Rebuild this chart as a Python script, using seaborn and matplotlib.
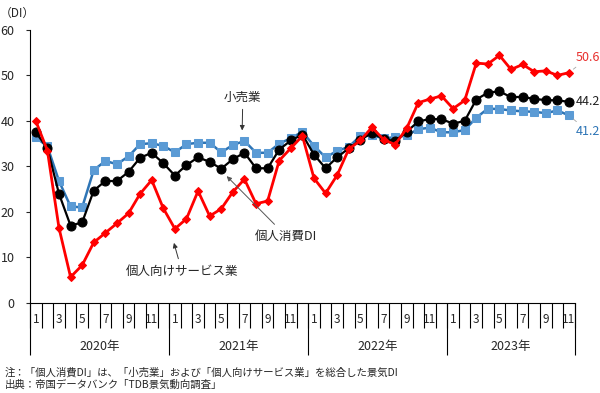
import numpy as np
import pandas as pd
import seaborn as sns
import matplotlib.pyplot as plt

# 2020年1月～2023年11月
years = ['2020年', '2021年', '2022年', '2023年']
months = [m for y in range(4) for m in range(1, 13)][:47]
month_labels = [str(m) if m % 2 == 1 else '' for m in months]

consumer_di = [37.5, 34.0, 24.0, 17.0, 17.7, 24.7, 26.8, 26.8, 28.8, 31.9, 33.0, 30.7,
               28.0, 30.3, 32.0, 31.0, 29.5, 31.6, 33.0, 29.6, 29.6, 33.7, 35.7, 37.0,
               32.6, 29.6, 32.0, 34.0, 35.8, 37.4, 36.0, 35.6, 37.6, 39.9, 40.4, 40.4,
               39.4, 40.0, 44.7, 46.2, 46.5, 45.2, 45.3, 44.8, 44.6, 44.5, 44.2]
retail = [36.4, 34.4, 26.8, 21.2, 21.0, 29.2, 31.2, 30.5, 32.2, 34.9, 35.1, 34.5,
          33.1, 34.9, 35.2, 35.2, 33.1, 34.7, 35.6, 33.0, 33.0, 35.0, 36.2, 37.6,
          34.5, 32.0, 33.4, 34.3, 36.7, 36.8, 36.2, 36.4, 36.8, 38.2, 38.5, 37.5,
          37.5, 38.0, 40.7, 42.7, 42.6, 42.3, 42.1, 42.0, 41.7, 42.3, 41.2]
service = [40.0, 33.5, 16.5, 5.7, 8.3, 13.3, 15.4, 17.5, 19.7, 24.0, 27.0, 20.8,
           16.3, 18.5, 24.6, 19.1, 20.7, 24.4, 27.2, 21.8, 22.4, 31.3, 34.0, 36.7,
           27.4, 24.1, 28.1, 33.8, 35.7, 38.6, 35.9, 34.8, 38.4, 44.0, 44.8, 45.5,
           42.7, 44.5, 52.7, 52.5, 54.4, 51.3, 52.4, 50.8, 51.0, 50.0, 50.6]

x = np.arange(len(months))
df = pd.DataFrame({'x': x, '個人消費DI': consumer_di, '小売業': retail,
                   '個人向けサービス業': service})

sns.set_style('white')
plt.rcParams['font.family'] = ['Noto Sans CJK JP', 'DejaVu Sans']

fig = plt.figure(figsize=(6, 3.93), dpi=100)
ax = fig.add_axes([0.05, 0.229, 0.908, 0.695])

sns.lineplot(data=df, x='x', y='小売業', ax=ax, color='#2E75B6', lw=1.8,
             marker='s', markersize=6, markerfacecolor='#5B9BD5',
             markeredgecolor='#5B9BD5')
sns.lineplot(data=df, x='x', y='個人消費DI', ax=ax, color='black', lw=1.6,
             marker='o', markersize=6.5, markeredgecolor='black')
sns.lineplot(data=df, x='x', y='個人向けサービス業', ax=ax, color='#FF0000', lw=2,
             marker='D', markersize=4.5, markeredgecolor='#FF0000')

ax.set_xlim(-0.5, len(months) - 0.5)
ax.set_ylim(0, 60)
ax.set_yticks(range(0, 61, 10))
ax.set_xlabel('')
ax.set_ylabel('')
sns.despine(ax=ax)
for s in ['left', 'bottom']:
    ax.spines[s].set_color('black')
    ax.spines[s].set_linewidth(0.8)

ax.tick_params(axis='y', left=True, length=3, width=0.8, pad=8, labelsize=9)
ax.set_xticks(x)
ax.set_xticklabels(month_labels)
ax.set_xticks(np.arange(-0.5, len(months)), minor=True)
ax.tick_params(axis='x', which='major', length=0, pad=7, labelsize=8.5)
ax.tick_params(axis='x', which='minor', bottom=True, direction='out',
               length=18, width=0.8, color='black')

# year dividers and labels
bounds = [i - 0.5 for i in range(0, len(months), 12)] + [len(months) - 0.5]
ax.vlines(bounds, 0, -0.19, transform=ax.get_xaxis_transform(), clip_on=False,
          color='black', lw=0.8)
for i, yr in enumerate(years):
    ax.text((bounds[i] + bounds[i + 1]) / 2, -0.158, yr, ha='center', va='center',
            fontsize=9, transform=ax.get_xaxis_transform())

arrow = dict(arrowstyle='-|>', color='#333333', lw=0.7, mutation_scale=7)
ax.annotate('小売業', xy=(17.8, 37.3), xytext=(17.86, 45.3), ha='center',
            va='center', fontsize=9, arrowprops=arrow)
ax.annotate('個人消費DI', xy=(16.3, 28.3), xytext=(21.6, 14.7), ha='center',
            va='center', fontsize=9, arrowprops=dict(arrow, color='#555555'))
ax.annotate('個人向けサービス業', xy=(11.85, 13.8), xytext=(12.6, 7.0), ha='center',
            va='center', fontsize=9, arrowprops=arrow)

lead = dict(arrowstyle='-', color='#A6A6A6', lw=0.6, shrinkA=0, shrinkB=4)
ax.annotate(f'{service[-1]}', xy=(x[-1], service[-1]), xytext=(5, 11),
            textcoords='offset points', ha='left', va='center', fontsize=9,
            color='#E8302E', arrowprops=lead, annotation_clip=False)
ax.annotate(f'{consumer_di[-1]}', xy=(x[-1], consumer_di[-1]), xytext=(5, 0),
            textcoords='offset points', ha='left', va='center', fontsize=9,
            color='#222222', annotation_clip=False)
ax.annotate(f'{retail[-1]}', xy=(x[-1], retail[-1]), xytext=(5, -11.5),
            textcoords='offset points', ha='left', va='center', fontsize=9,
            color='#2E75B6', arrowprops=lead, annotation_clip=False)

fig.text(0.0, 0.967, '（DI）', fontsize=8.5, va='center', ha='left')
fig.text(0.008, 1 - 372 / 393, '注：「個人消費DI」は、「小売業」および「個人向けサービス業」を総合した景気DI',
         fontsize=7.5, va='center', ha='left')
fig.text(0.008, 1 - 385 / 393, '出典：帝国データバンク「TDB景気動向調査」',
         fontsize=7.5, va='center', ha='left')

fig.savefig('out.png', dpi=100)
